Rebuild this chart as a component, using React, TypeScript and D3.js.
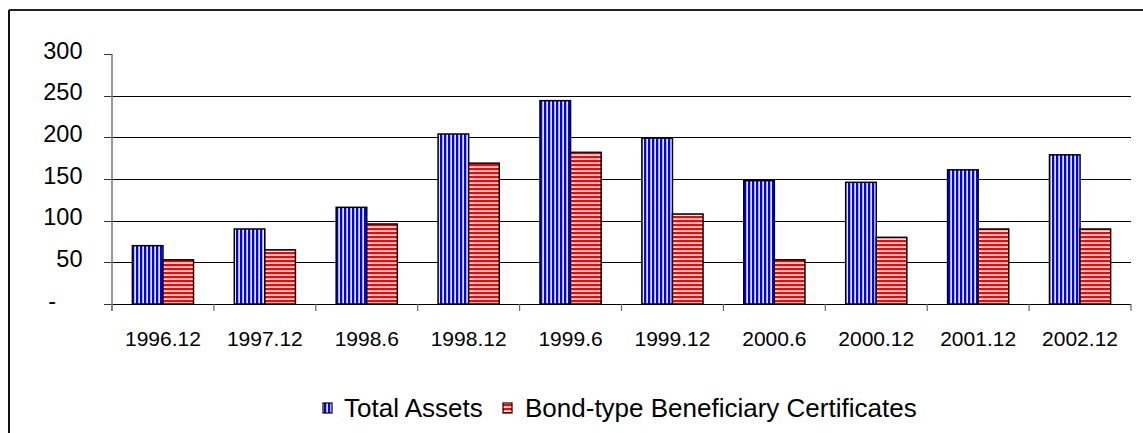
import React from "react";
import * as d3 from "d3";

const categories = ["1996.12", "1997.12", "1998.6", "1998.12", "1999.6", "1999.12", "2000.6", "2000.12", "2001.12", "2002.12"];
const totalAssets = [70, 90, 116, 204, 244, 199, 148, 146, 161, 179];
const bondCertificates = [53, 65, 96, 169, 182, 108, 53, 80, 90, 90];
const seriesNames = ["Total Assets", "Bond-type Beneficiary Certificates"];
const yTicks = [0, 50, 100, 150, 200, 250, 300];

const W = 1143;
const H = 433;
const FONT = "'Liberation Sans', Arial, sans-serif";

export default function App() {
  const left = 112;
  const right = 1131;
  const x0 = d3.scaleBand<string>().domain(categories).range([left, right]).padding(0);
  const step = x0.step();
  const x1 = d3.scaleBand<string>().domain(seriesNames).range([step * 0.2, step * 0.8]).padding(0);
  const y = d3.scaleLinear().domain([0, 300]).range([304, 54]);
  const series = [
    { name: seriesNames[0], values: totalAssets, fill: "url(#vstripe)" },
    { name: seriesNames[1], values: bondCertificates, fill: "url(#hstripe)" },
  ];
  const boundaries = d3.range(categories.length + 1).map((i) => left + i * step);

  return (
    <div style={{ position: "fixed", left: 0, top: 0 }}>
      <svg width={W} height={H} style={{ display: "block", background: "#fff" }}>
        <defs>
          <pattern id="vstripe" patternUnits="userSpaceOnUse" width={4} height={4}>
            <rect x={0} y={0} width={4} height={4} fill="#0000ff" />
            <rect x={2} y={0} width={1} height={4} fill="#a8a8ff" />
            <rect x={3} y={0} width={1} height={4} fill="#f4f4ff" />
          </pattern>
          <pattern id="hstripe" patternUnits="userSpaceOnUse" width={4} height={4}>
            <rect x={0} y={0} width={4} height={4} fill="#ff0000" />
            <rect x={0} y={2} width={4} height={1} fill="#ffa8a8" />
            <rect x={0} y={3} width={4} height={1} fill="#fff0f0" />
          </pattern>
        </defs>
        {/* frame */}
        <line x1={9} y1={10} x2={W} y2={10} stroke="#222" strokeWidth={2} />
        <line x1={9} y1={10} x2={9} y2={H} stroke="#111" strokeWidth={2} />

        {/* gridlines */}
        {yTicks.filter((t) => t > 0 && t < 300).map((t) => (
          <line key={t} x1={left} x2={right} y1={Math.round(y(t)) + 0.5} y2={Math.round(y(t)) + 0.5} stroke="#000" strokeWidth={1} />
        ))}
        {/* y ticks */}
        {yTicks.map((t) => (
          <line key={"t" + t} x1={104} x2={left} y1={Math.round(y(t)) + 0.5} y2={Math.round(y(t)) + 0.5} stroke="#333" strokeWidth={1} />
        ))}
        {/* y labels */}
        {yTicks.map((t) => (
          <text key={"l" + t} x={t === 0 ? 56 : 82.5} y={y(t) + 4.5} textAnchor="end" fontFamily={FONT} fontSize={23.5} fill="#000">
            {t === 0 ? "-" : String(t)}
          </text>
        ))}

        {/* bars */}
        {series.map((s) =>
          s.values.map((v, i) => {
            const bx = (x0(categories[i]) as number) + (x1(s.name) as number);
            return (
              <rect
                key={s.name + i}
                x={bx}
                y={y(v)}
                width={x1.bandwidth()}
                height={y(0) - y(v)}
                fill={s.fill}
                stroke="#000"
                strokeWidth={1.5}
              />
            );
          })
        )}

        {/* x axis */}
        <line x1={left} x2={right} y1={304.5} y2={304.5} stroke="#000" strokeWidth={1} />
        {boundaries.map((bx, i) => (
          <line key={"b" + i} x1={bx} x2={bx} y1={304} y2={311} stroke="#666" strokeWidth={1.2} />
        ))}
        {/* y axis */}
        <line x1={left} x2={left} y1={54} y2={311} stroke="#777" strokeWidth={1.5} />

        {/* x labels */}
        {categories.map((c) => (
          <text key={c} x={(x0(c) as number) + step / 2} y={346} textAnchor="middle" fontFamily={FONT} fontSize={21} fill="#000">
            {c}
          </text>
        ))}

        {/* legend */}
        <rect x={323} y={403} width={9} height={10} fill="url(#vstripe)" stroke="#000" strokeWidth={1.2} />
        <text x={344} y={417} fontFamily={FONT} fontSize={26} fill="#000">{seriesNames[0]}</text>
        <rect x={503} y={403} width={9} height={10} fill="url(#hstripe)" stroke="#000" strokeWidth={1.2} />
        <text x={525} y={417} fontFamily={FONT} fontSize={26} fill="#000">{seriesNames[1]}</text>
      </svg>
    </div>
  );
}
